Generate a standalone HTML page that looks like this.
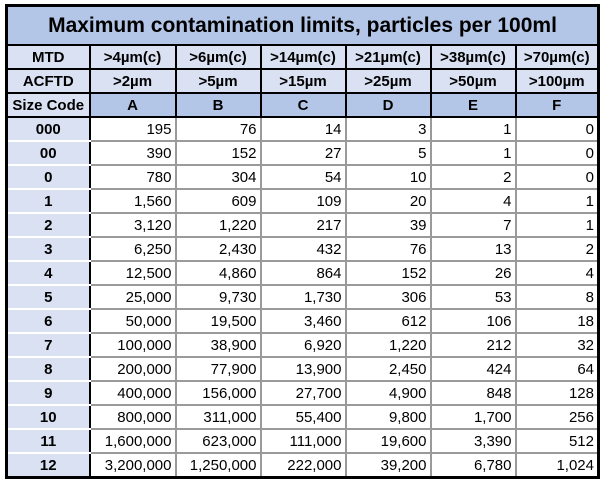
<!DOCTYPE html>
<html><head><meta charset="utf-8"><style>
html,body{margin:0;padding:0;background:#fff;width:606px;height:484px;overflow:hidden}
table{position:absolute;left:5px;top:4px;border-collapse:collapse;border:3px solid #000;font-family:"Liberation Sans",Arial,sans-serif;table-layout:fixed}
td{padding:0 3px;font-size:15px;color:#000;border:2px solid #9a9a9a;overflow:hidden;white-space:nowrap}
tr.t td{background:#b4c6e7;height:37px;text-align:center;font-weight:bold;font-size:21px;border:2px solid #000}
tr.h td{background:#d9e1f2;height:22px;text-align:center;font-weight:bold;border:2px solid #000}
tr.s td{background:#b4c6e7;height:22px;text-align:center;font-weight:bold;border:2px solid #000}
tr.s td:first-child{background:#d9e1f2}
tr.d td{height:22px;text-align:right;background:#fff}
tr.d td:first-child{background:#d9e1f2;text-align:center;font-weight:bold;border-left:2px solid #000;border-right:2px solid #000;border-top:2px solid #fff;border-bottom:2px solid #fff}
</style></head><body>
<table>
<colgroup><col style="width:83px"><col style="width:86px"><col style="width:85px"><col style="width:85px"><col style="width:85px"><col style="width:85px"><col style="width:83px"></colgroup>
<tr class="t"><td colspan="7">Maximum contamination limits, particles per 100ml</td></tr>
<tr class="h"><td>MTD</td><td>&gt;4µm(c)</td><td>&gt;6µm(c)</td><td>&gt;14µm(c)</td><td>&gt;21µm(c)</td><td>&gt;38µm(c)</td><td>&gt;70µm(c)</td></tr>
<tr class="h"><td>ACFTD</td><td>&gt;2µm</td><td>&gt;5µm</td><td>&gt;15µm</td><td>&gt;25µm</td><td>&gt;50µm</td><td>&gt;100µm</td></tr>
<tr class="s"><td>Size Code</td><td>A</td><td>B</td><td>C</td><td>D</td><td>E</td><td>F</td></tr>
<tr class="d"><td>000</td><td>195</td><td>76</td><td>14</td><td>3</td><td>1</td><td>0</td></tr>
<tr class="d"><td>00</td><td>390</td><td>152</td><td>27</td><td>5</td><td>1</td><td>0</td></tr>
<tr class="d"><td>0</td><td>780</td><td>304</td><td>54</td><td>10</td><td>2</td><td>0</td></tr>
<tr class="d"><td>1</td><td>1,560</td><td>609</td><td>109</td><td>20</td><td>4</td><td>1</td></tr>
<tr class="d"><td>2</td><td>3,120</td><td>1,220</td><td>217</td><td>39</td><td>7</td><td>1</td></tr>
<tr class="d"><td>3</td><td>6,250</td><td>2,430</td><td>432</td><td>76</td><td>13</td><td>2</td></tr>
<tr class="d"><td>4</td><td>12,500</td><td>4,860</td><td>864</td><td>152</td><td>26</td><td>4</td></tr>
<tr class="d"><td>5</td><td>25,000</td><td>9,730</td><td>1,730</td><td>306</td><td>53</td><td>8</td></tr>
<tr class="d"><td>6</td><td>50,000</td><td>19,500</td><td>3,460</td><td>612</td><td>106</td><td>18</td></tr>
<tr class="d"><td>7</td><td>100,000</td><td>38,900</td><td>6,920</td><td>1,220</td><td>212</td><td>32</td></tr>
<tr class="d"><td>8</td><td>200,000</td><td>77,900</td><td>13,900</td><td>2,450</td><td>424</td><td>64</td></tr>
<tr class="d"><td>9</td><td>400,000</td><td>156,000</td><td>27,700</td><td>4,900</td><td>848</td><td>128</td></tr>
<tr class="d"><td>10</td><td>800,000</td><td>311,000</td><td>55,400</td><td>9,800</td><td>1,700</td><td>256</td></tr>
<tr class="d"><td>11</td><td>1,600,000</td><td>623,000</td><td>111,000</td><td>19,600</td><td>3,390</td><td>512</td></tr>
<tr class="d"><td>12</td><td>3,200,000</td><td>1,250,000</td><td>222,000</td><td>39,200</td><td>6,780</td><td>1,024</td></tr>
</table>
</body></html>
